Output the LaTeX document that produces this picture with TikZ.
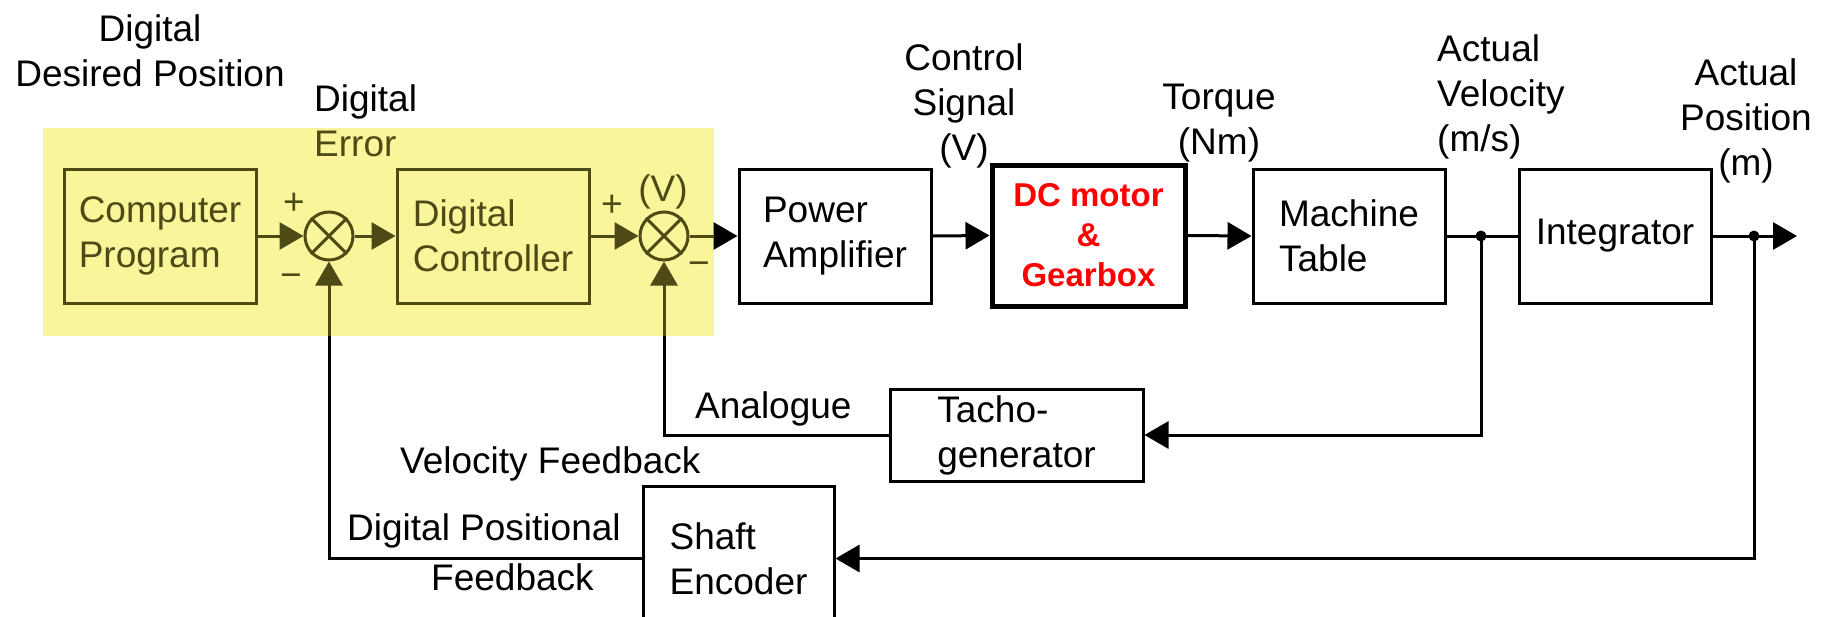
\documentclass[tikz,border=0pt]{standalone}
\usepackage{fontspec}
\setmainfont{Liberation Sans}
\usetikzlibrary{arrows.meta,calc}
\definecolor{olv}{RGB}{78,74,22}
\definecolor{hl}{RGB}{249,245,155}
\definecolor{rd}{RGB}{255,0,0}
\begin{document}
\begin{tikzpicture}[x=1pt,y=-1pt,
 every node/.style={font=\fontsize{37}{45}\selectfont, inner sep=0pt},
 box/.style={draw, line width=3pt, minimum width=192pt, minimum height=134pt, align=left},
 sumnode/.style={draw, circle, line width=3pt, minimum size=48pt},
 arr/.style={line width=3pt, -{Triangle[length=24pt,width=27pt]}},
 ln/.style={line width=3pt},
]
\useasboundingbox (0,0) rectangle (1830,616);
\clip (0,0) rectangle (1830,616);
\fill[hl] (43,128) rectangle (714,336);

% blocks
\node[box, olv] (cp) at (160,236) {Computer\\Program};
\node[sumnode, olv] (s1) at (329,236) {};
\node[box, olv] (dctl) at (493,236) {Digital\\Controller};
\node[sumnode, olv] (s2) at (664,236) {};
\node[box] (pa) at (835,236) {Power\\Amplifier};
\node[box, line width=5pt, minimum width=193pt, minimum height=141pt, align=center, text=rd, font=\fontsize{33}{40}\selectfont\bfseries] (dcm) at (1088.5,235.5) {DC motor\\\&\\Gearbox};
\node[box] (mt) at (1349,236) {Machine\\Table};
\node[box] (integ) at (1615,236) {Integrator};
\node[box, minimum width=253pt, minimum height=92pt] (tacho) at (1016.5,435) {Tacho-\\generator};
\node[box, minimum width=191pt, minimum height=144pt, anchor=north] (enc) at (738.5,485) {Shaft\\Encoder};

% crosses in summing junctions
\draw[ln, olv] (s1.north west) -- (s1.south east) (s1.north east) -- (s1.south west);
\draw[ln, olv] (s2.north west) -- (s2.south east) (s2.north east) -- (s2.south west);

% coordinates
\coordinate (j1) at (1481,236);
\coordinate (j2) at (1754,236);
\coordinate (out) at (1797,236);
\coordinate (e2) at (714,236);
\coordinate (y1) at (329,336);
\coordinate (y2) at (664,336);

% forward path
\draw[arr, olv] (cp.east) -- (s1.west);
\draw[arr, olv] (s1.east) -- (dctl.west);
\draw[arr, olv] (dctl.east) -- (s2.west);
\draw[arr] (s2.east) -- (pa.west);
\draw[ln, olv] (s2.east) -- (e2);
\draw[arr] (pa.east) -- (dcm.west);
\draw[arr] (dcm.east) -- (mt.west);
\draw[ln] (mt.east) -- (integ.west);
\draw[arr] (integ.east) -- (out);
\fill (j1) circle (5.5pt);
\fill (j2) circle (5.5pt);

% feedback paths
\draw[arr] (j1) |- (tacho.east);
\draw[arr] (j2) |- (enc.east);
\draw[ln] (tacho.west) -| (y2);
\draw[arr, olv] (y2) -- (s2.south);
\draw[ln] (enc.west) -| (y1);
\draw[arr, olv] (y1) -- (s1.south);

% labels
\node[align=center, anchor=north] (lDes) at (150,14.5) {Digital\\Desired Position};
\node[align=left, anchor=north west] (lErr) at (314,84.5) {Digital\\\textcolor{olv}{Error}};
\node[align=center, anchor=north] (lCtl) at (964,43.5) {Control\\Signal\\(V)};
\node[align=center, anchor=north] (lTq) at (1219,83.5) {Torque\\(Nm)};
\node[align=left, anchor=north west] (lVel) at (1437,34.5) {Actual\\Velocity\\(m/s)};
\node[align=center, anchor=north] (lPos) at (1746,58.5) {Actual\\Position\\(m)};
\node[anchor=base west] (lAna) at (695,418) {Analogue};
\node[anchor=base west] (lVF) at (400,473) {Velocity Feedback};
\node[anchor=base west] (lDP) at (347,540) {Digital Positional};
\node[anchor=base west] (lFb) at (431,590) {Feedback};
\node[anchor=base, olv] (lV) at (663,201) {(V)};
\node[anchor=base, olv] (p1) at (294,214) {+};
\node[anchor=base, olv] (m1) at (291,287) {−};
\node[anchor=base, olv] (p2) at (612,216) {+};
\node[anchor=base, olv] (m2) at (699,275) {−};
\end{tikzpicture}
\end{document}
